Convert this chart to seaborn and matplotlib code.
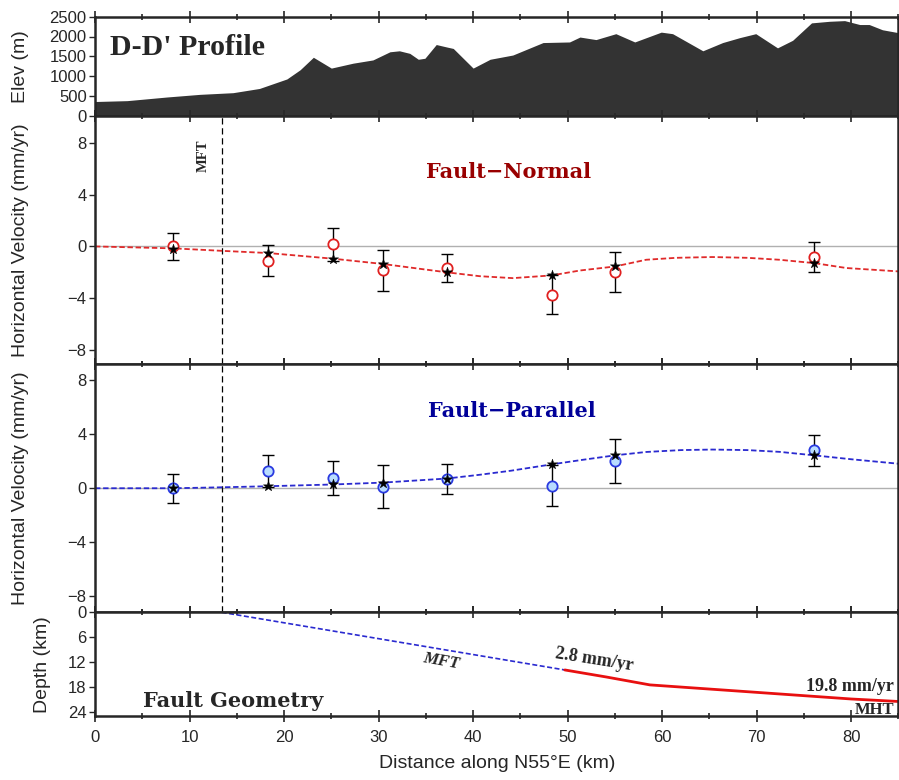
import matplotlib
matplotlib.use("Agg")
import matplotlib.pyplot as plt
import seaborn as sns
import pandas as pd
from matplotlib.ticker import MultipleLocator

# topography along the profile
prof_km = [0.0, 3.4, 7.6, 11.1, 14.6, 17.4, 20.3, 21.7, 23.1, 25.0, 27.3, 29.4, 31.2, 32.2,
           33.3, 34.2, 34.9, 36.1, 37.3, 37.9, 40.0, 41.8, 44.2, 47.4, 50.2, 51.3, 53.0,
           55.1, 57.1, 59.9, 61.1, 64.3, 66.4, 68.2, 69.9, 72.2, 73.8, 75.8, 77.7, 79.3,
           80.9, 81.9, 83.3, 85.0]
prof_elev = [358, 380, 472, 539, 581, 688, 928, 1160, 1475, 1202, 1326, 1408, 1614, 1639,
             1574, 1425, 1450, 1797, 1730, 1698, 1202, 1425, 1532, 1847, 1862, 1986, 1922,
             2071, 1862, 2110, 2071, 1639, 1847, 1971, 2071, 1713, 1904, 2344, 2384, 2401,
             2302, 2302, 2170, 2096]

# GPS stations
sta_km = [8.3, 18.3, 25.2, 30.5, 37.2, 48.3, 55.0, 76.1]
fn_obs = [0.0, -1.1, 0.15, -1.85, -1.65, -3.74, -1.95, -0.83]
fn_err = [1.05, 1.2, 1.3, 1.6, 1.07, 1.5, 1.55, 1.15]
fn_mod = [-0.2, -0.51, -0.95, -1.36, -2.0, -2.24, -1.55, -1.29]
fp_obs = [0.0, 1.27, 0.75, 0.12, 0.67, 0.2, 2.02, 2.8]
fp_err = [1.08, 1.17, 1.28, 1.6, 1.13, 1.5, 1.6, 1.17]
fp_mod = [0.0, 0.15, 0.28, 0.42, 0.72, 1.77, 2.44, 2.44]

# model curves
fn_curve_km = [0, 8.3, 13.4, 18.3, 25.2, 30.5, 37.2, 40.7, 44.2, 48.3, 51.3, 55.0, 58.3,
               61.5, 65.3, 69.0, 72.4, 76.1, 79.5, 85.0]
fn_curve = [0, -0.15, -0.34, -0.51, -0.95, -1.36, -2.0, -2.3, -2.45, -2.24, -1.86, -1.55,
            -1.03, -0.88, -0.82, -0.88, -1.03, -1.29, -1.67, -1.93]
fp_curve_km = [0, 8.3, 13.4, 18.3, 25.2, 30.5, 37.2, 40.7, 44.0, 48.3, 51.5, 55.0, 58.3,
               62.0, 65.3, 69.0, 72.4, 76.1, 80.0, 85.0]
fp_curve = [0, 0.0, 0.07, 0.15, 0.28, 0.42, 0.72, 1.0, 1.3, 1.77, 2.1, 2.44, 2.69, 2.83,
            2.87, 2.83, 2.7, 2.44, 2.15, 1.82]

# fault geometry
mft_km = [13.4, 49.7]
mft_depth = [0.0, 13.9]
mht_km = [49.7, 54.1, 58.7, 70.0, 80.0, 85.0]
mht_depth = [13.9, 15.6, 17.5, 19.3, 20.9, 21.5]
mft_surface_km = 13.4

sns.set_style("ticks")
plt.rcParams['font.family'] = ['Liberation Sans', 'DejaVu Sans']
plt.rcParams['axes.linewidth'] = 1.8

W, H = 899, 780
fig = plt.figure(figsize=(W / 100, H / 100), dpi=100)


def box(top, bottom):
    return [95 / W, 1 - bottom / H, (898.5 - 95) / W, (bottom - top) / H]


ax0 = fig.add_axes(box(16.7, 115.7))
ax1 = fig.add_axes(box(115.7, 364.2))
ax2 = fig.add_axes(box(364.2, 612.3))
ax3 = fig.add_axes(box(612.3, 716))

for ax in (ax0, ax1, ax2, ax3):
    ax.set_xlim(0, 85)
    ax.xaxis.set_major_locator(MultipleLocator(10))
    ax.xaxis.set_minor_locator(MultipleLocator(5))
    ax.tick_params(axis='x', which='both', top=True, bottom=True, direction='inout',
                   labelbottom=False, width=1.2)
    ax.tick_params(axis='x', which='major', length=8)
    ax.tick_params(axis='x', which='minor', length=5)
    ax.tick_params(axis='y', direction='out', length=4, width=1, labelsize=12, pad=2)
    for s in ax.spines.values():
        s.set_visible(True)

serif = ['Liberation Serif', 'DejaVu Serif']
slab = ['DejaVu Serif']

# elevation
ax0.fill_between(prof_km, prof_elev, 0, color='#333333', lw=0)
ax0.set_ylim(0, 2500)
ax0.set_yticks([0, 500, 1000, 1500, 2000, 2500])
ax0.set_ylabel('Elev (m)', fontsize=14)
ax0.yaxis.set_label_coords(-0.082, 0.5)
ax0.text(1.6, 1533, "D-D' Profile", family=serif, fontweight='bold', fontsize=21.5,
         va='baseline', ha='left')


def velocity_panel(ax, curve_km, curve, obs, err, mod, line_c, face_c, edge_c):
    ax.axhline(0, color='#b0b0b0', lw=1, zorder=1)
    ax.axvline(mft_surface_km, color='black', lw=0.9, ls=(0, (5, 3)), zorder=1)
    sns.lineplot(x=curve_km, y=curve, ax=ax, color=line_c, lw=1.3,
                 linestyle=(0, (3, 1.5)), zorder=2)
    ax.errorbar(sta_km, obs, yerr=err, fmt='none', ecolor='black', elinewidth=1,
                capsize=4.3, capthick=1, zorder=3)
    sns.scatterplot(x=sta_km, y=obs, ax=ax, marker='o', s=55, facecolor=face_c,
                    edgecolor=edge_c, linewidth=1.3, zorder=4)
    sns.scatterplot(x=sta_km, y=mod, ax=ax, marker='*', s=60, color='black',
                    edgecolor='black', linewidth=0.3, zorder=5)
    ax.set_yticks([-8, -4, 0, 4, 8])
    ax.set_ylabel('Horizontal Velocity (mm/yr)', fontsize=14)
    ax.yaxis.set_label_coords(-0.082, 0.5)


velocity_panel(ax1, fn_curve_km, fn_curve, fn_obs, fn_err, fn_mod,
               '#e02a2a', 'white', '#e02020')
ax1.set_ylim(-9.1, 10.1)
ax1.text(43.8, 5.3, 'Fault\u2212Normal', family=slab, fontweight='bold', fontsize=15,
         color='#990000', ha='center', va='baseline')
ax1.text(11.5, 7.0, 'MFT', family=serif, fontweight='bold', fontsize=10.5,
         rotation=90, ha='center', va='center')

velocity_panel(ax2, fp_curve_km, fp_curve, fp_obs, fp_err, fp_mod,
               '#2a2ad0', '#b8dcff', '#2a3ae0')
ax2.set_ylim(-9.2, 9.2)
ax2.text(44.1, 5.25, 'Fault\u2212Parallel', family=slab, fontweight='bold', fontsize=15,
         color='#000099', ha='center', va='baseline')

# fault geometry
sns.lineplot(x=mft_km, y=mft_depth, ax=ax3, color='#2a2ad0', lw=1.2,
             linestyle=(0, (3, 1.5)))
sns.lineplot(x=mht_km, y=mht_depth, ax=ax3, color='#e81010', lw=2)
ax3.set_ylim(25, 0)
ax3.set_yticks([0, 6, 12, 18, 24])
ax3.set_ylabel('Depth (km)', fontsize=14)
ax3.yaxis.set_label_coords(-0.055, 0.5)
ax3.tick_params(axis='x', which='major', labelbottom=True, labelsize=12, pad=6)
ax3.set_xlabel('')
fig.text((95 + 898.5) / 2 / W, 1 - 763 / H, 'Distance along N55\u00b0E (km)',
         fontsize=14, ha='center', va='center')
ax3.text(5.1, 22.9, 'Fault Geometry', family=slab, fontweight='bold', fontsize=15,
         ha='left', va='baseline')
ax3.text(36.6, 11.8, 'MFT', family=serif, fontweight='bold', fontstyle='italic',
         fontsize=12.3, rotation=-10, ha='center', va='center')
ax3.text(52.8, 11.4, '2.8 mm/yr', family=serif, fontweight='bold', fontsize=13,
         rotation=-9, ha='center', va='center')
ax3.text(79.9, 18.9, '19.8 mm/yr', family=serif, fontweight='bold', fontsize=13,
         ha='center', va='baseline')
ax3.text(82.5, 24.4, 'MHT', family=serif, fontweight='bold', fontsize=12,
         ha='center', va='baseline')

for ax in (ax0, ax1, ax2, ax3):
    leg = ax.get_legend()
    if leg is not None:
        leg.remove()

fig.savefig('out.png', dpi=100)
